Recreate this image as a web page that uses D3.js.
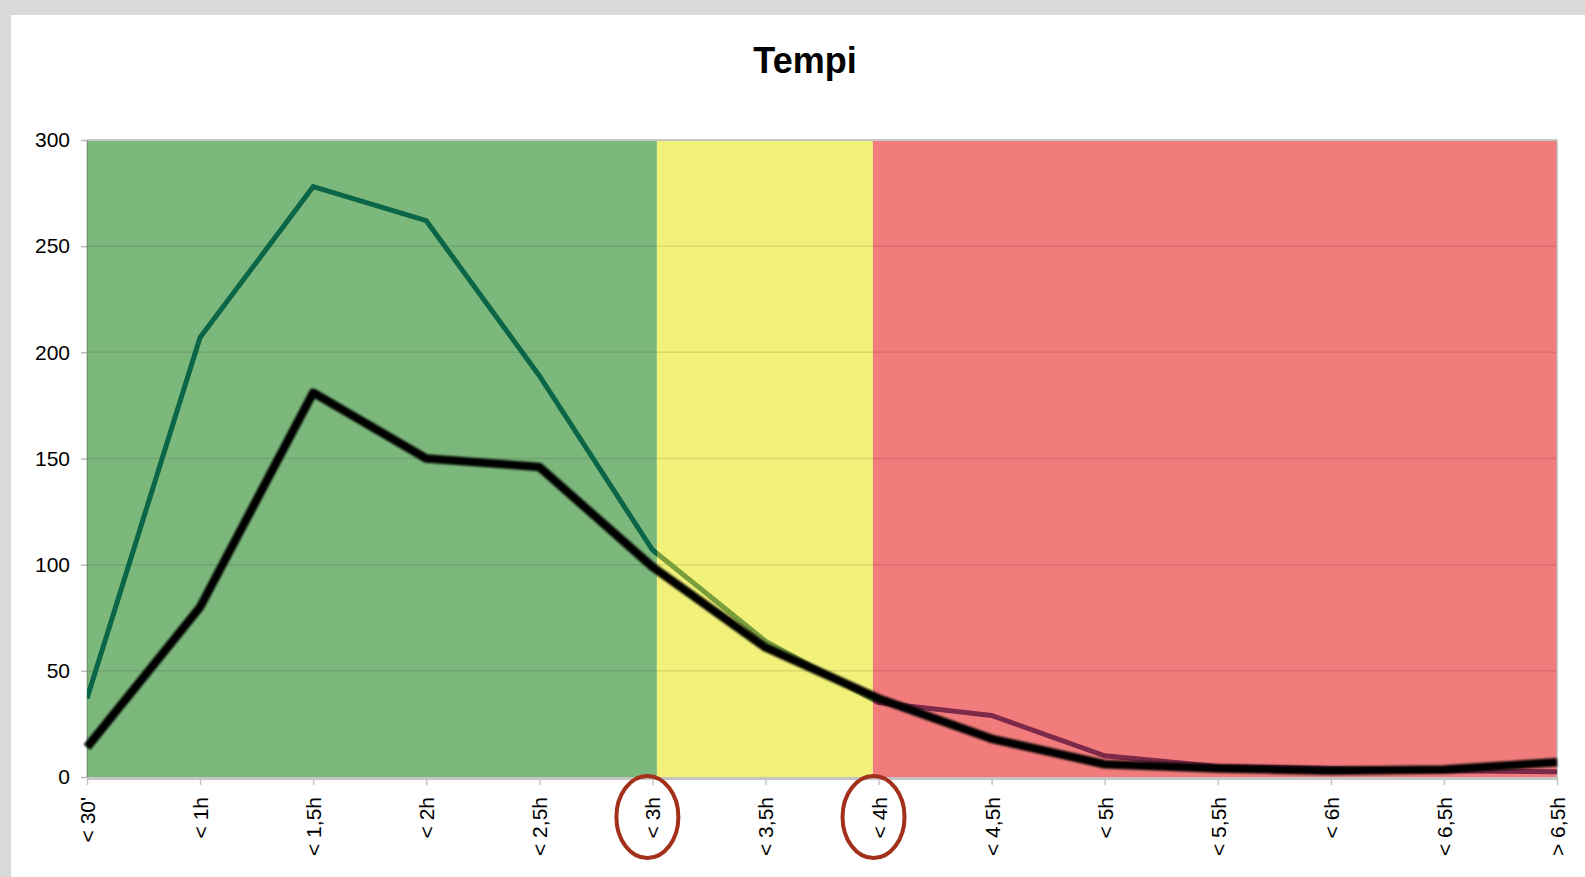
<!DOCTYPE html>
<html>
<head>
<meta charset="utf-8">
<script src="https://cdn.jsdelivr.net/npm/d3@7"></script>
<style>
  html, body { margin: 0; padding: 0; background: #ffffff; }
  svg { display: block; font-family: "Liberation Sans", Arial, sans-serif; }
</style>
</head>
<body>
<svg id="chart" width="1585" height="877"></svg>
<script>
// ---- data ----
const title = "Tempi";
const categories = ["< 30'", "< 1h", "< 1,5h", "< 2h", "< 2,5h", "< 3h", "< 3,5h", "< 4h", "< 4,5h", "< 5h", "< 5,5h", "< 6h", "< 6,5h", "> 6,5h"];
const seriesGreen = [37, 207, 278, 262, 189, 107, 64, 35, 29, 10, 5, 4, 3, 2.5];
const seriesBlack = [14, 80, 181, 150, 146, 99, 61, 37, 18, 6, 4, 3, 3.5, 7];
const yTicks = [0, 50, 100, 150, 200, 250, 300];
const bandEdges = [0, 5.04, 6.95, 13];       // in category-index units
const bandFills = ["#7cb87c", "#f2f27a", "#f27c7c"];
const greenSeriesColors = ["#0b6647", "#7a9e3c", "#7d2949"];
const circledCategories = ["< 3h", "< 4h"];

// ---- layout ----
const W = 1585, H = 877;
const pL = 87, pR = 1557, pT = 140, pB = 777;

const svg = d3.select("#chart");

// page frame
svg.append("rect").attr("x", 0).attr("y", 0).attr("width", W).attr("height", H).attr("fill", "#ffffff");
svg.append("rect").attr("x", 0).attr("y", 0).attr("width", W).attr("height", 15).attr("fill", "#d9d9d9");
svg.append("rect").attr("x", 0).attr("y", 0).attr("width", 11).attr("height", H).attr("fill", "#d9d9d9");

// scales
const x = d3.scalePoint().domain(categories).range([pL, pR]);
const xi = d3.scaleLinear().domain([0, categories.length - 1]).range([pL, pR]);
const y = d3.scaleLinear().domain([0, 300]).range([pB, pT]);

// title
svg.append("text")
  .attr("x", 805).attr("y", 73)
  .attr("text-anchor", "middle")
  .attr("font-size", 36).attr("font-weight", "bold").attr("fill", "#000")
  .text(title);

// bands
const defs = svg.append("defs");
bandFills.forEach((c, i) => {
  svg.append("rect")
    .attr("x", xi(bandEdges[i])).attr("y", pT)
    .attr("width", xi(bandEdges[i + 1]) - xi(bandEdges[i]))
    .attr("height", pB - pT)
    .attr("fill", c);
  defs.append("clipPath").attr("id", "band" + i)
    .append("rect")
    .attr("x", xi(bandEdges[i])).attr("y", pT - 20)
    .attr("width", xi(bandEdges[i + 1]) - xi(bandEdges[i]))
    .attr("height", pB - pT + 40);
});

// gridlines
svg.append("g").selectAll("line").data(yTicks.filter(d => d > 0 && d < 300)).join("line")
  .attr("x1", pL).attr("x2", pR)
  .attr("y1", d => y(d)).attr("y2", d => y(d))
  .attr("stroke", "#000").attr("stroke-opacity", 0.1).attr("stroke-width", 1.5);

// plot border lines
svg.append("line").attr("x1", pL).attr("x2", pR).attr("y1", pT).attr("y2", pT)
  .attr("stroke", "#c8c8c8").attr("stroke-width", 2);
svg.append("line").attr("x1", pR).attr("x2", pR).attr("y1", pT).attr("y2", pB)
  .attr("stroke", "#b8b8b8").attr("stroke-width", 1.5);
svg.append("line").attr("x1", pL).attr("x2", pL).attr("y1", pT).attr("y2", pB)
  .attr("stroke", "#000").attr("stroke-opacity", 0.2).attr("stroke-width", 1.5);

// green series, coloured per band
const line = d3.line().x((d, i) => x(categories[i])).y(d => y(d));
greenSeriesColors.forEach((c, i) => {
  svg.append("path")
    .datum(seriesGreen)
    .attr("clip-path", "url(#band" + i + ")")
    .attr("fill", "none")
    .attr("stroke", c)
    .attr("stroke-width", 5)
    .attr("stroke-linejoin", "miter")
    .attr("d", line);
});

// black series (soft edge)
const blur = defs.append("filter").attr("id", "soft").attr("x", "-5%").attr("y", "-5%").attr("width", "110%").attr("height", "110%");
blur.append("feGaussianBlur").attr("stdDeviation", 1.1);
svg.append("path")
  .datum(seriesBlack)
  .attr("fill", "none")
  .attr("stroke", "#000")
  .attr("stroke-width", 8.5)
  .attr("stroke-linejoin", "round")
  .attr("filter", "url(#soft)")
  .attr("d", line);

// y axis
const yAxis = svg.append("g").attr("transform", `translate(${pL},0)`)
  .call(d3.axisLeft(y).tickValues(yTicks).tickSize(6).tickPadding(11));
yAxis.select(".domain").remove();
yAxis.selectAll(".tick line").attr("stroke", "#bbbbbb").attr("stroke-width", 1.5);
yAxis.selectAll(".tick text").attr("font-size", 21).attr("fill", "#000")
  .attr("font-family", "'Liberation Sans', Arial, sans-serif");

// x axis
const xAxis = svg.append("g").attr("transform", `translate(0,${pB})`)
  .call(d3.axisBottom(x).tickSize(8).tickPadding(0));
xAxis.select(".domain").attr("stroke", "#c4c4c4").attr("stroke-width", 3)
  .attr("d", `M${pL},1.5H${pR}`);
xAxis.selectAll(".tick line").attr("stroke", "#c4c4c4").attr("stroke-width", 1.5);
xAxis.selectAll(".tick text")
  .attr("font-size", 21).attr("fill", "#000")
  .attr("font-family", "'Liberation Sans', Arial, sans-serif")
  .attr("text-anchor", "end")
  .attr("dominant-baseline", "central")
  .attr("transform", "translate(0,20) rotate(-90)")
  .attr("x", 0).attr("y", 0).attr("dy", null);

// circles around highlighted labels
svg.append("g").selectAll("ellipse").data(circledCategories).join("ellipse")
  .attr("cx", d => x(d) - 5)
  .attr("cy", 817)
  .attr("rx", 31).attr("ry", 41)
  .attr("fill", "none")
  .attr("stroke", "#a2301b")
  .attr("stroke-width", 4);
</script>
</body>
</html>
